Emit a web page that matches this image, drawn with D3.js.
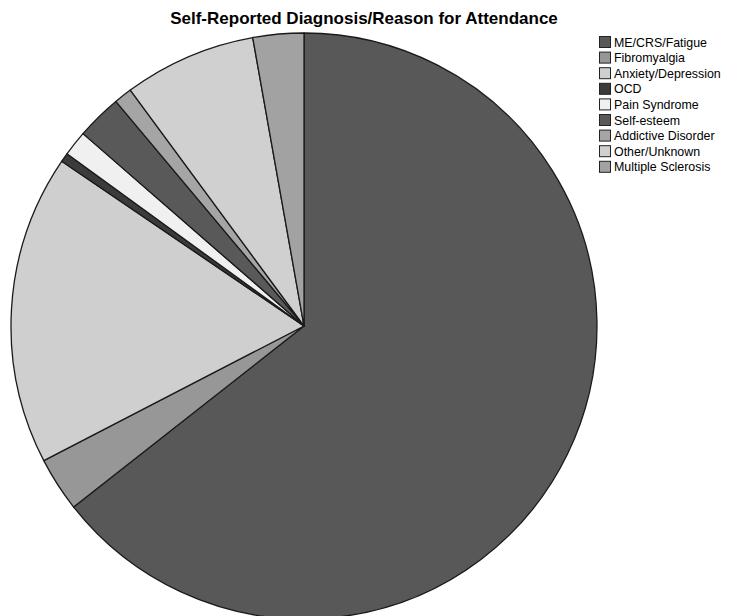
<!DOCTYPE html>
<html lang="en">
<head>
<meta charset="utf-8">
<title>Self-Reported Diagnosis</title>
<style>
  body { margin: 0; background: #fff; }
  .title { font-family: "Liberation Sans", Arial, sans-serif; font-size: 17px; font-weight: bold; }
  .legend text { font-family: "Liberation Sans", Arial, sans-serif; font-size: 12.4px; }
</style>
<script src="https://cdn.jsdelivr.net/npm/d3@7"></script>
</head>
<body>
<script>
var w = 736;
var h = 616;

// data (percent of respondents)
var categories = ['ME/CRS/Fatigue', 'Fibromyalgia', 'Anxiety/Depression', 'OCD', 'Pain Syndrome',
                  'Self-esteem', 'Addictive Disorder', 'Other/Unknown', 'Multiple Sclerosis'];
var values = [64.4, 3.0, 17.1, 0.5, 1.4, 2.5, 1.0, 7.3, 2.8];
var fills = ['#585858', '#979797', '#cfcfcf', '#3b3b3b', '#f0f0f0', '#595959', '#a5a5a5', '#d0d0d0', '#a2a2a2'];

var data = categories.map(function(c, i) { return {name: c, value: values[i]}; });

var svg = d3.select('body').append('svg')
  .attr('width', w)
  .attr('height', h);

svg.append('text')
  .attr('class', 'title')
  .attr('x', 364)
  .attr('y', 24)
  .attr('text-anchor', 'middle')
  .text('Self-Reported Diagnosis/Reason for Attendance');

var cx = 304, cy = 326, r = 293;

var pie = d3.pie().sort(null).value(function(d) { return d.value; });
var arc = d3.arc().innerRadius(0).outerRadius(r);

var g = svg.append('g').attr('transform', 'translate(' + cx + ',' + cy + ')');

g.selectAll('path')
  .data(pie(data))
  .enter()
  .append('path')
  .attr('d', arc)
  .attr('fill', function(d, i) { return fills[i]; })
  .attr('stroke', '#1a1a1a')
  .attr('stroke-width', 1.3)
  .attr('stroke-linejoin', 'round');

// legend
var legend = svg.append('g').attr('class', 'legend')
  .attr('transform', 'translate(599,36)');

var item = legend.selectAll('g')
  .data(categories)
  .enter()
  .append('g')
  .attr('transform', function(d, i) { return 'translate(0,' + (i * 15.6) + ')'; });

item.append('rect')
  .attr('x', 0.5)
  .attr('y', 0.5)
  .attr('width', 11)
  .attr('height', 11)
  .attr('fill', function(d, i) { return fills[i]; })
  .attr('stroke', '#222')
  .attr('stroke-width', 1);

item.append('text')
  .attr('x', 15)
  .attr('y', 10.5)
  .text(function(d) { return d; });
</script>
</body>
</html>
